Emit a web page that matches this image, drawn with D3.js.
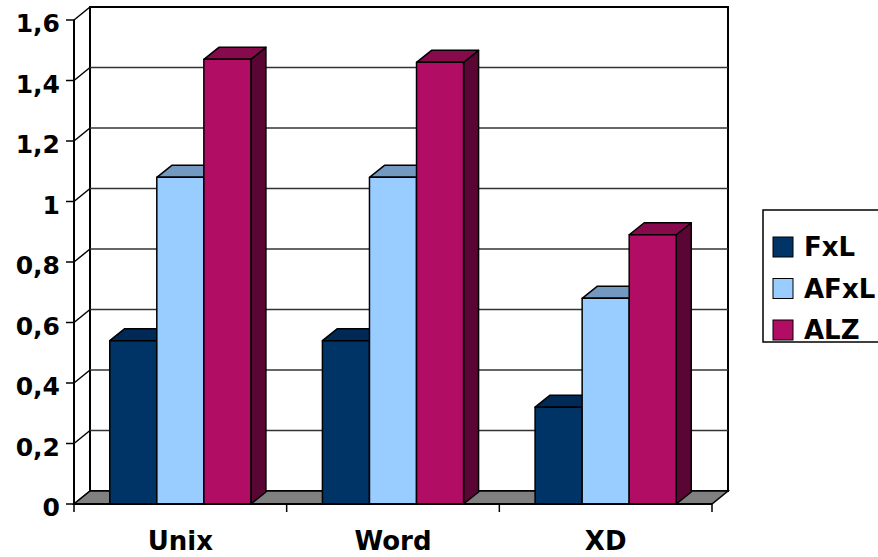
<!DOCTYPE html>
<html>
<head>
<meta charset="utf-8">
<script src="https://cdn.jsdelivr.net/npm/d3@7"></script>
<style>
  body { margin: 0; background: #fff; }
  svg text { font-family: "DejaVu Sans", Verdana, sans-serif; font-weight: bold; fill: #000; }
</style>
</head>
<body>
<div id="chart"></div>
<script>
// data
var categories = ["Unix", "Word", "XD"];
var seriesNames = ["FxL", "AFxL", "ALZ"];
var fxl  = [0.54, 0.54, 0.32];
var afxl = [1.08, 1.08, 0.68];
var alz  = [1.47, 1.46, 0.89];
var yTicks = [0, 0.2, 0.4, 0.6, 0.8, 1, 1.2, 1.4, 1.6];

var seriesValues = [fxl, afxl, alz];
var colors = [
  {front: "#003366", top: "#002a55", side: "#001d3d"},
  {front: "#99ccff", top: "#7399c0", side: "#5c7a99"},
  {front: "#b10d65", top: "#860a4c", side: "#590634"}
];

var width = 878, height = 557;
// 3d depth of walls and bars
var wdx = 16, wdy = -13;
var bdx = 15, bdy = -12;

var svg = d3.select("#chart")
  .append("svg")
    .attr("width", width)
    .attr("height", height);

var x = d3.scaleBand()
  .domain(categories)
  .range([74, 712]);

var xs = d3.scaleBand()
  .domain(seriesNames)
  .range([0, x.bandwidth()])
  .paddingOuter(0.76);

var y = d3.scaleLinear()
  .domain([0, 1.6])
  .range([504, 20]);

// back wall
svg.append("rect")
  .attr("x", x.range()[0] + wdx)
  .attr("y", y(1.6) + wdy)
  .attr("width", x.range()[1] - x.range()[0])
  .attr("height", y(0) - y(1.6))
  .attr("fill", "#fff")
  .attr("stroke", "#000")
  .attr("stroke-width", 2);

// gridlines on back wall and side wall
yTicks.forEach(function(v) {
  if (v > 0 && v < 1.6) {
    svg.append("line")
      .attr("x1", x.range()[0] + wdx).attr("x2", x.range()[1] + wdx)
      .attr("y1", y(v) + wdy).attr("y2", y(v) + wdy)
      .attr("stroke", "#333").attr("stroke-width", 1.5);
  }
  svg.append("line")
    .attr("x1", x.range()[0]).attr("x2", x.range()[0] + wdx)
    .attr("y1", y(v)).attr("y2", y(v) + wdy)
    .attr("stroke", "#000").attr("stroke-width", 1.5);
});

// floor
svg.append("polygon")
  .attr("points", [
    [x.range()[0], y(0)], [x.range()[1], y(0)],
    [x.range()[1] + wdx, y(0) + wdy], [x.range()[0] + wdx, y(0) + wdy]
  ].join(" "))
  .attr("fill", "#808080")
  .attr("stroke", "#000")
  .attr("stroke-width", 1.5);

// bars
categories.forEach(function(c, ci) {
  seriesNames.forEach(function(s, si) {
    var v = seriesValues[si][ci];
    var x0 = x(c) + xs(s), x1 = x0 + xs.bandwidth();
    var y0 = y(0), y1 = y(v);
    var g = svg.append("g")
      .attr("stroke", "#000")
      .attr("stroke-width", 1.5)
      .attr("stroke-linejoin", "round");
    g.append("polygon")
      .attr("points", [[x1, y1], [x1 + bdx, y1 + bdy], [x1 + bdx, y0 + bdy], [x1, y0]].join(" "))
      .attr("fill", colors[si].side);
    g.append("polygon")
      .attr("points", [[x0, y1], [x0 + bdx, y1 + bdy], [x1 + bdx, y1 + bdy], [x1, y1]].join(" "))
      .attr("fill", colors[si].top);
    g.append("rect")
      .attr("x", x0).attr("y", y1)
      .attr("width", x1 - x0).attr("height", y0 - y1)
      .attr("fill", colors[si].front);
  });
});

// left axis
svg.append("line")
  .attr("x1", 74).attr("x2", 74)
  .attr("y1", y(1.6)).attr("y2", y(0))
  .attr("stroke", "#000").attr("stroke-width", 2);
svg.selectAll(".ytick")
  .data(yTicks)
  .enter().append("line")
    .attr("x1", 66).attr("x2", 74)
    .attr("y1", function(d) { return y(d); })
    .attr("y2", function(d) { return y(d); })
    .attr("stroke", "#000").attr("stroke-width", 1.5);
svg.selectAll(".ylabel")
  .data(yTicks)
  .enter().append("text")
    .attr("x", 60)
    .attr("y", function(d) { return y(d) + 12; })
    .attr("text-anchor", "end")
    .style("font-size", "25px")
    .text(function(d) { return String(d).replace(".", ","); });

// bottom axis
svg.append("line")
  .attr("x1", x.range()[0]).attr("x2", x.range()[1])
  .attr("y1", y(0)).attr("y2", y(0))
  .attr("stroke", "#000").attr("stroke-width", 2);
var xTickPos = categories.map(function(c) { return x(c); }).concat([x.range()[1]]);
svg.selectAll(".xtick")
  .data(xTickPos)
  .enter().append("line")
    .attr("x1", function(d) { return d; })
    .attr("x2", function(d) { return d; })
    .attr("y1", y(0)).attr("y2", y(0) + 8)
    .attr("stroke", "#000").attr("stroke-width", 1.5);
svg.selectAll(".xlabel")
  .data(categories)
  .enter().append("text")
    .attr("x", function(d) { return x(d) + x.bandwidth() / 2; })
    .attr("y", 550)
    .attr("text-anchor", "middle")
    .style("font-size", "26px")
    .text(function(d) { return d; });

// legend
var legend = svg.append("g");
legend.append("rect")
  .attr("x", 763).attr("y", 210)
  .attr("width", 130).attr("height", 132)
  .attr("fill", "#fff")
  .attr("stroke", "#000").attr("stroke-width", 1.5);
seriesNames.forEach(function(s, i) {
  var cy = 247 + i * 41.5;
  legend.append("rect")
    .attr("x", 773).attr("y", cy - 10)
    .attr("width", 20).attr("height", 20)
    .attr("fill", colors[i].front)
    .attr("stroke", "#000").attr("stroke-width", 1);
  legend.append("text")
    .attr("x", 804).attr("y", cy + 9)
    .style("font-size", "26px")
    .text(s);
});
</script>
</body>
</html>
